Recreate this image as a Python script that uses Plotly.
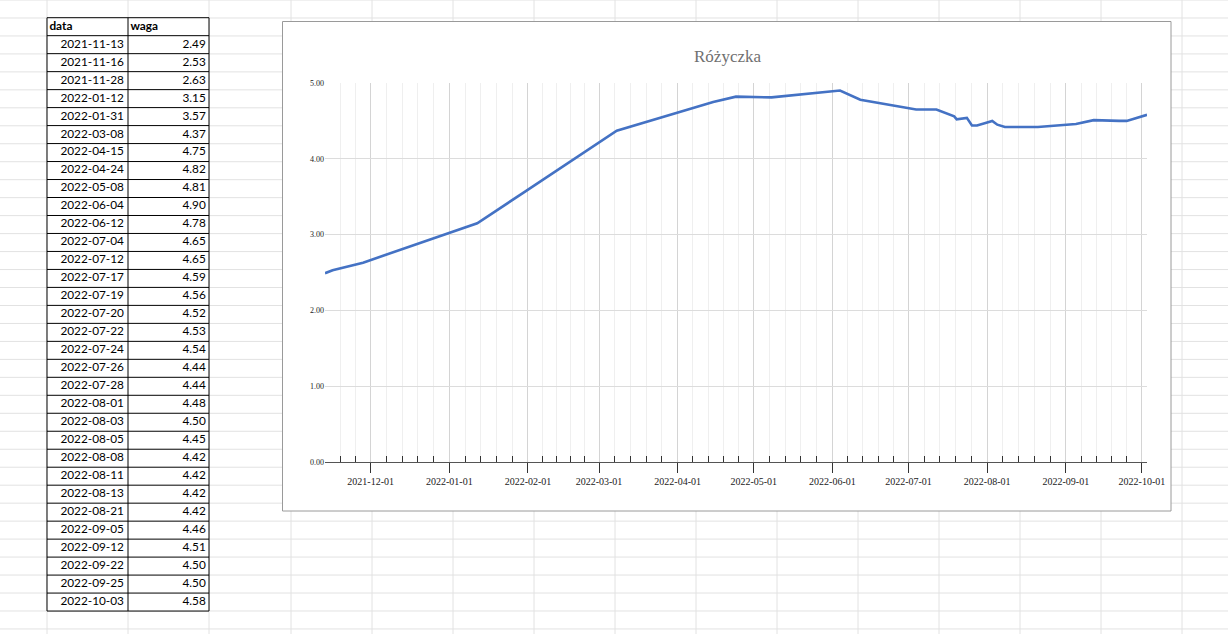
import calendar
import datetime as dt
import plotly.graph_objects as go

# ---- data ----
dates = ["2021-11-13", "2021-11-16", "2021-11-28", "2022-01-12", "2022-01-31",
         "2022-03-08", "2022-04-15", "2022-04-24", "2022-05-08", "2022-06-04",
         "2022-06-12", "2022-07-04", "2022-07-12", "2022-07-17", "2022-07-19",
         "2022-07-20", "2022-07-22", "2022-07-24", "2022-07-26", "2022-07-28",
         "2022-08-01", "2022-08-03", "2022-08-05", "2022-08-08", "2022-08-11",
         "2022-08-13", "2022-08-21", "2022-09-05", "2022-09-12", "2022-09-22",
         "2022-09-25", "2022-10-03"]
waga = [2.49, 2.53, 2.63, 3.15, 3.57, 4.37, 4.75, 4.82, 4.81, 4.90,
        4.78, 4.65, 4.65, 4.59, 4.56, 4.52, 4.53, 4.54, 4.44, 4.44,
        4.48, 4.50, 4.45, 4.42, 4.42, 4.42, 4.42, 4.46, 4.51, 4.50,
        4.50, 4.58]
header = ["data", "waga"]
title = "Różyczka"
month_ticks = ["2021-12-01", "2022-01-01", "2022-02-01", "2022-03-01", "2022-04-01",
               "2022-05-01", "2022-06-01", "2022-07-01", "2022-08-01", "2022-09-01",
               "2022-10-01"]
y_ticks = [0, 1, 2, 3, 4, 5]

W, H = 1228, 634
COLW = 81.0          # spreadsheet column width, px
ROWH = 17.98         # spreadsheet row height, px
TAB_L, TAB_T = 47.0, 17.7
NROWS = len(dates) + 1
PADX, PADY = 0.06, 0.25


def px(x):
    return x / W


def py(y):
    return 1 - y / H


# minor ticks: each month split into five equal parts (only those inside the axis range)
minor_vals = []
for (yr, mo) in [(2021, 11), (2021, 12)] + [(2022, m) for m in range(1, 10)]:
    ndays = calendar.monthrange(yr, mo)[1]
    start = dt.datetime(yr, mo, 1)
    for k in range(1, 5):
        t = start + dt.timedelta(days=ndays * k / 5)
        if dt.datetime(2021, 11, 13) < t < dt.datetime(2022, 10, 3):
            minor_vals.append(t.strftime("%Y-%m-%d %H:%M"))

fig = go.Figure()

# chart line
fig.add_trace(go.Scatter(
    x=dates, y=waga, mode="lines",
    line=dict(color="#4472c4", width=2.6),
    hoverinfo="skip", showlegend=False,
))

# spreadsheet table (text drawn on its own hidden axes: x = column, y = row)
tab_font = dict(family="Lato", size=11.8, color="#000000")
rows = [i + 1.5 for i in range(len(dates))]
fig.add_trace(go.Scatter(
    x=[0.03, 1.03], y=[0.5, 0.5], mode="text",
    text=[f"<b>{h}</b>" for h in header], textposition="middle right",
    textfont=tab_font, xaxis="x2", yaxis="y2", hoverinfo="skip", showlegend=False,
))
fig.add_trace(go.Scatter(
    x=[1 - 0.05] * len(dates), y=rows, mode="text",
    text=dates, textposition="middle left",
    textfont=tab_font, xaxis="x2", yaxis="y2", hoverinfo="skip", showlegend=False,
))
fig.add_trace(go.Scatter(
    x=[2 - 0.04] * len(waga), y=rows, mode="text",
    text=[f"{v:.2f}" for v in waga], textposition="middle left",
    textfont=tab_font, xaxis="x2", yaxis="y2", hoverinfo="skip", showlegend=False,
))

shapes = []
# spreadsheet grid lines
for xv in [47, 128, 209, 291, 372, 453, 534, 615, 696, 777, 858, 939, 1020, 1101, 1182]:
    shapes.append(dict(type="line", xref="paper", yref="paper", x0=px(xv), x1=px(xv),
                       y0=0, y1=1, line=dict(color="#e2e2e2", width=1), layer="below"))
for k in range(0, 36):
    yv = 17.97 * k
    shapes.append(dict(type="line", xref="paper", yref="paper", x0=0, x1=1,
                       y0=py(yv), y1=py(yv), line=dict(color="#e2e2e2", width=1), layer="below"))
# table cell background and borders
shapes.append(dict(type="rect", xref="x2", yref="y2", x0=0, x1=2, y0=0, y1=NROWS,
                   fillcolor="white", line=dict(width=0), layer="below"))
for c in range(3):
    shapes.append(dict(type="line", xref="x2", yref="y2", x0=c, x1=c, y0=0, y1=NROWS,
                       line=dict(color="#000000", width=1)))
for r in range(NROWS + 1):
    shapes.append(dict(type="line", xref="x2", yref="y2", x0=0, x1=2, y0=r, y1=r,
                       line=dict(color="#000000", width=1)))
# chart box
shapes.append(dict(type="rect", xref="paper", yref="paper",
                   x0=px(282.5), x1=px(1171), y0=py(511), y1=py(21.5),
                   fillcolor="white", line=dict(color="#9a9a9a", width=1), layer="below"))

fig.update_layout(
    width=W, height=H,
    margin=dict(l=0, r=0, t=0, b=0, pad=0, autoexpand=False),
    paper_bgcolor="white",
    plot_bgcolor="rgba(0,0,0,0)",
    shapes=shapes,
    showlegend=False,
    annotations=[dict(text=title, xref="paper", yref="paper", x=px(727), y=py(56),
                      showarrow=False, xanchor="center", yanchor="middle",
                      font=dict(family="Liberation Serif", size=17, color="#707070"))],
    xaxis=dict(
        type="date", domain=[px(325), px(1147)],
        range=["2021-11-13", "2022-10-03"], automargin=False,
        tickmode="array", tickvals=month_ticks, ticktext=month_ticks,
        ticks="outside", ticklen=10, tickcolor="#333333", tickwidth=1,
        showline=True, linecolor="#555555", linewidth=1,
        showgrid=True, gridcolor="#d4d4d4", gridwidth=1,
        tickfont=dict(family="Liberation Serif", size=10, color="#222222"),
        minor=dict(tickmode="array", tickvals=minor_vals, ticks="inside", ticklen=6,
                   tickcolor="#333333", showgrid=True, gridcolor="#efefef", gridwidth=1),
        zeroline=False, fixedrange=True,
    ),
    yaxis=dict(
        domain=[py(462), py(83)], range=[0, 5], automargin=False,
        tickmode="array", tickvals=y_ticks, tickformat=".2f",
        showgrid=True, gridcolor="#dcdcdc", gridwidth=1,
        showline=False, zeroline=False, ticks="",
        tickfont=dict(family="Liberation Serif", size=8, color="#222222"),
        fixedrange=True,
    ),
    xaxis2=dict(
        domain=[px(TAB_L - PADX * COLW), px(TAB_L + (2 + PADX) * COLW)],
        range=[-PADX, 2 + PADX], visible=False, fixedrange=True, automargin=False,
    ),
    yaxis2=dict(
        domain=[py(TAB_T + (NROWS + PADY) * ROWH), py(TAB_T - PADY * ROWH)],
        range=[NROWS + PADY, -PADY], visible=False, fixedrange=True, automargin=False,
    ),
)

fig.write_html(
    "out.html",
    config={"displayModeBar": False},
    post_script="document.body.style.margin='0';",
)
